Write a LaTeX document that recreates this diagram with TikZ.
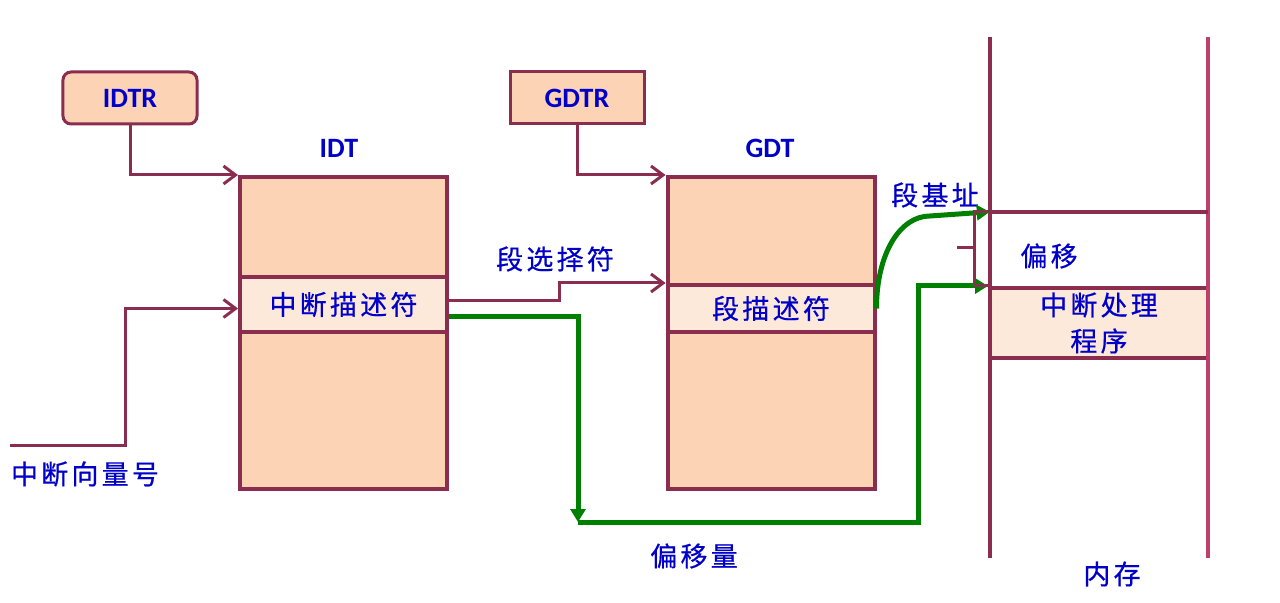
\documentclass[tikz,border=0pt]{standalone}
\usepackage{fontspec}
\setmainfont{Carlito}
\newfontfamily\cjk[LetterSpace=12, FakeBold=0.6]{Noto Sans CJK SC}
\usetikzlibrary{arrows.meta, positioning}
\definecolor{darkmaroon}{RGB}{139,45,78}
\definecolor{rosered}{RGB}{190,64,104}
\definecolor{peach}{RGB}{252,211,180}
\definecolor{lightpeach}{RGB}{253,233,217}
\definecolor{labelblue}{RGB}{0,0,200}
\definecolor{pathgreen}{RGB}{0,128,0}

\begin{document}
\begin{tikzpicture}[x=1bp, y=-1bp,
        reg/.style={draw=darkmaroon, line width=3bp, fill=peach, minimum width=134bp, minimum height=52bp, font=\fontsize{28bp}{30bp}\selectfont\bfseries, text=labelblue},
        cell/.style={draw=darkmaroon, line width=4bp, fill=peach, minimum width=207bp},
        desc/.style={cell, fill=lightpeach, font=\cjk\fontsize{27bp}{36bp}\selectfont, text=labelblue, align=center},
        title/.style={font=\fontsize{28bp}{30bp}\selectfont\bfseries, text=labelblue},
        cjklabel/.style={font=\cjk\fontsize{27bp}{30bp}\selectfont, text=labelblue},
        link/.style={draw=darkmaroon, line width=3bp, -{Straight Barb[length=12bp, width=18bp]}},
        flow/.style={draw=pathgreen, line width=5bp, -{Triangle[length=13bp, width=15bp]}},
        memline/.style={line width=4bp}]
        \useasboundingbox (0,0) rectangle (1280,603);

        % Registers
        \node[reg, rounded corners=8bp] (idtr) at (130,98) {IDTR};
        \node[reg] (gdtr) at (577,98) {GDTR};

        % IDT
        \node[title] (idtname) at (339,148) {IDT};
        \node[cell, minimum height=100bp] (idttop) at (343.5,227) {};
        \node[desc, minimum height=55bp] (idtdesc) at (343.5,304.5) {中断描述符};
        \node[cell, minimum height=157bp] (idtbot) at (343.5,410.5) {};

        % GDT
        \node[title] (gdtname) at (770,148) {GDT};
        \node[cell, minimum height=108bp] (gdttop) at (771,231) {};
        \node[desc, minimum height=47bp] (gdtdesc) at (771,308.5) {段描述符};
        \node[cell, minimum height=157bp] (gdtbot) at (771,410.5) {};

        % Memory
        \coordinate (memtl) at (990,37);
        \coordinate (membl) at (990,558);
        \coordinate (memtr) at (1208,37);
        \coordinate (membr) at (1208,558);
        \node[minimum width=218bp, minimum height=76bp] (offset) at (1099,250) {};
        \node[desc, minimum width=218bp, minimum height=70bp] (handler) at (1099,323) {中断处理\\程序};
        \draw[memline, darkmaroon] (memtl) -- (membl);
        \draw[memline, rosered] (memtr) -- (membr);
        \draw[memline, darkmaroon] (offset.north west) -- (offset.north east);

        % Labels
        \node[cjklabel] (vecname) at (85,474) {中断向量号};
        \node[cjklabel] (selname) at (555,259) {段选择符};
        \node[cjklabel] (basename) at (935,195) {段基址};
        \node[cjklabel] (offname) at (1049,256) {偏移};
        \node[cjklabel] (dispname) at (694,556) {偏移量};
        \node[cjklabel] (memname) at (1112,574) {内存};

        % Arrows
        \coordinate (vec) at (10,445);
        \draw[link] (idtr.south) |- (idttop.north west);
        \draw[link] (gdtr.south) |- (gdttop.north west);
        \draw[link] (vec) -- ++(115,0) |- ([yshift=-4bp]idtdesc.west);
        \draw[link] ([yshift=4bp]idtdesc.east) -- ++(110,0) |- (gdtdesc.north west);

        \coordinate (disp) at (578,522);
        \draw[flow] ([yshift=-12bp]idtdesc.east) -| (disp);
        \draw[flow] (disp) -| ([xshift=-70bp]handler.north west) -- (handler.north west);
        \draw[flow] (gdtdesc.east) .. controls +(0,-55) and +(-30,0) .. (930,216) -- (offset.north west);

        % Offset bracket
        \draw[darkmaroon, line width=3bp] ([xshift=-2bp]offset.north west) -- ++(-13,0) -- ++(0,74) -- ++(13,0);
        \draw[darkmaroon, line width=3bp] (957,248) -- (975,248);
    \end{tikzpicture}
\end{document}
